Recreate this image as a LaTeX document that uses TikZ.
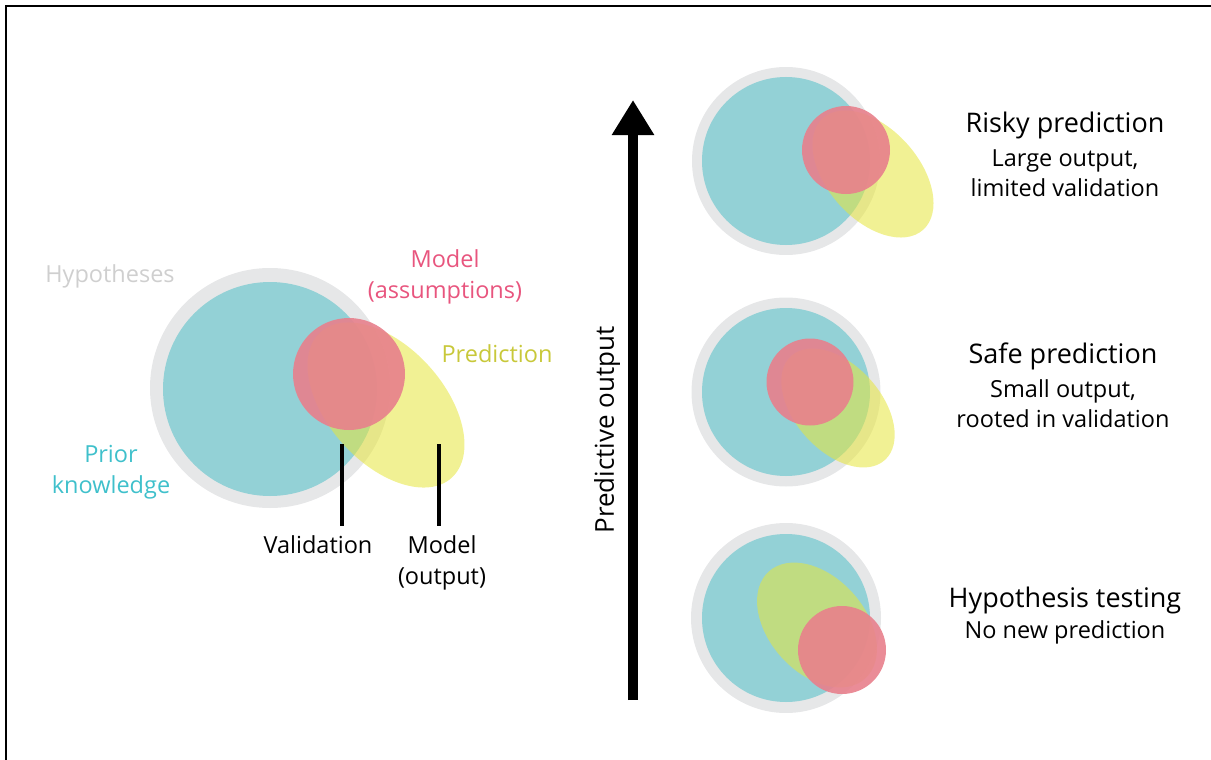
\documentclass[tikz,border=0pt]{standalone}
\usepackage{fontspec}
\setmainfont{Open Sans}
\usepackage{tikz}
\usetikzlibrary{shapes.geometric}
\usetikzlibrary{arrows.meta}
\definecolor{hypo}{HTML}{E6E7E8}
\definecolor{prior}{HTML}{93D1D6}
\definecolor{pred}{RGB}{230,230,60}
\definecolor{model}{RGB}{232,128,140}
\definecolor{hypotext}{HTML}{CFCFCF}
\definecolor{modeltext}{HTML}{E8557E}
\definecolor{predtext}{HTML}{C8C83A}
\definecolor{priortext}{HTML}{3FC0CB}
\tikzset{
  % set shapes
  hypotheses/.style={circle,fill=hypo,inner sep=0,minimum size=#1},
  knowledge/.style={circle,fill=prior,inner sep=0,minimum size=#1},
  prediction/.style={ellipse,fill=pred,fill opacity=.55,inner sep=0,rotate=-48},
  assumptions/.style={circle,fill=model,fill opacity=.9,inner sep=0,minimum size=#1},
  % set texts
  label/.style={align=center,font=\fontsize{23.5}{31}\selectfont},
  title/.style={align=center,font=\fontsize{27}{32}\selectfont},
  subtitle/.style={align=center,font=\fontsize{23.5}{30}\selectfont},
  % set lines
  marker/.style={line width=3.5pt},
  axis/.style={line width=10pt,-{Triangle[length=35pt,width=40pt]}},
  frame/.style={line width=2pt},
}
\newcommand{\RiskyTitle}{\node[title] (risky) at (1065,125) {Risky prediction};}
\newcommand{\SafeTitle}{\node[title] (safe) at (1063,356) {Safe prediction};}
\newcommand{\TestingTitle}{\node[title] (testing) at (1065,600) {Hypothesis testing};}

\begin{document}
\begin{tikzpicture}[x=1pt,y=-1pt]
    \useasboundingbox (0,0) rectangle (1211,760);
    \draw[frame] (1211,6) -- (6,6) -- (6,760);
    % main diagram
    \node[hypotheses=240pt] (hyp) at (270,388) {};
    \node[knowledge=214pt] (know) at (270,389) {};
    \node[prediction,minimum width=196pt,minimum height=116pt] (pred) at (386,405) {};
    \node[assumptions=112pt] (model) at (349,374) {};
    \node[label,text=hypotext] (hyp label) at (110,276) {Hypotheses};
    \node[label,text=modeltext] (model label) at (445,277) {Model\\(assumptions)};
    \node[label,text=predtext] (pred label) at (497,354) {Prediction};
    \node[label,text=priortext] (know label) at (111,472) {Prior\\knowledge};
    \node[label] (valid label) at (318,545) {Validation};
    \node[label] (output label) at (442,563) {Model\\(output)};
    \coordinate (valid top) at (342,444);
    \coordinate (valid bottom) at (342,526);
    \coordinate (output top) at (439,444);
    \coordinate (output bottom) at (439,526);
    \draw[marker] (valid top) -- (valid bottom);
    \draw[marker] (output top) -- (output bottom);
    % axis
    \coordinate (axis start) at (633,700);
    \coordinate (axis end) at (633,100);
    \draw[axis] (axis start) -- (axis end);
    \node[label,font=\fontsize{26}{28}\selectfont,rotate=90] (axis label) at (607,430) {Predictive output};
    % risky prediction
    \node[hypotheses=188pt] (risky hyp) at (786,161) {};
    \node[knowledge=168pt] (risky know) at (786,161) {};
    \node[prediction,minimum width=150pt,minimum height=91pt] (risky pred) at (873,174) {};
    \node[assumptions=88pt] (risky model) at (846,150) {};
    \RiskyTitle
    \node[subtitle] (risky text) at (1065,173) {Large output,\\limited validation};
    % safe prediction
    \node[hypotheses=189pt] (safe hyp) at (786,392) {};
    \node[knowledge=168pt] (safe know) at (786,392) {};
    \node[prediction,minimum width=140pt,minimum height=86pt] (safe pred) at (838,408) {};
    \node[assumptions=87pt] (safe model) at (810,382) {};
    \SafeTitle
    \node[subtitle] (safe text) at (1063,404) {Small output,\\rooted in validation};
    % hypothesis testing
    \node[hypotheses=190pt] (testing hyp) at (786,618) {};
    \node[knowledge=168pt] (testing know) at (786,618) {};
    \node[prediction,minimum width=144pt,minimum height=96pt] (testing pred) at (817,625) {};
    \node[assumptions=88pt] (testing model) at (842,650) {};
    \TestingTitle
    \node[subtitle] (testing text) at (1065,632) {No new prediction};
  \end{tikzpicture}
\end{document}
